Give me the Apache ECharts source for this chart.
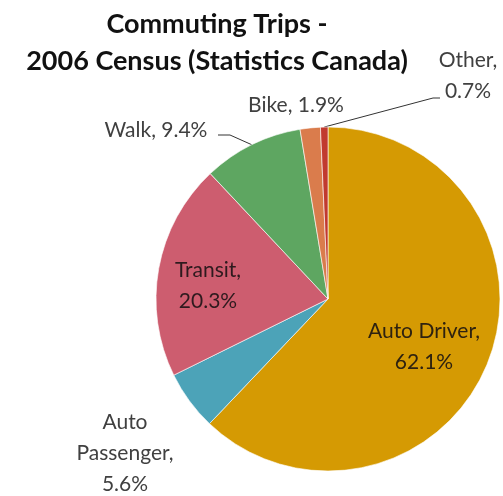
<!DOCTYPE html>
<html><head><meta charset="utf-8">
<script src="https://cdn.jsdelivr.net/npm/echarts@6/dist/echarts.min.js"></script>
<style>html,body{margin:0;padding:0;background:#fff}#c{width:503px;height:496px}</style>
</head><body><div id="c"></div>
<script>
const categories = ['Auto Driver', 'Auto Passenger', 'Transit', 'Walk', 'Bike', 'Other'];
const percents = [62.1, 5.6, 20.3, 9.4, 1.9, 0.7];
const labelLines = [
  ['Auto Driver,', '62.1%'],
  ['Auto', 'Passenger,', '5.6%'],
  ['Transit,', '20.3%'],
  ['Walk, 9.4%'],
  ['Bike, 1.9%'],
  ['Other,', '0.7%']
];
const titleLines = ['Commuting Trips -', '2006 Census (Statistics Canada)'];

const colors = ['#D59A03', '#4CA3B8', '#CD5D6F', '#5EA661', '#DA7C4C', '#C13A2F'];
const labelColors = ['#2e2210', '#404040', '#2e1a1e', '#404040', '#404040', '#404040'];
// label anchor (center) positions in px, layout only
const labelPos = [
  {x: 424, y: 347},
  {x: 125, y: 453},
  {x: 208, y: 286},
  {x: 156, y: 130},
  {x: 296, y: 105},
  {x: 468, y: 76}
];
const leader = {3: [[230, 135], [218, 135]], 5: [[433, 98], [440, 98]]};

const chart = echarts.init(document.getElementById('c'));
chart.setOption({
  animation: false,
  title: {
    text: titleLines.join('\n'),
    left: 212, top: 1, textAlign: 'center',
    textStyle: {fontFamily: 'Lato', fontWeight: 'bold', fontSize: 27, lineHeight: 37, color: '#111'}
  },
  series: [{
    type: 'pie',
    center: [328, 299],
    radius: 172,
    startAngle: 90,
    clockwise: true,
    avoidLabelOverlap: false,
    data: categories.map((c, i) => ({
      name: c, value: percents[i],
      itemStyle: {color: colors[i]},
      label: {color: labelColors[i]},
      labelLine: {show: leader[i] !== undefined}
    })),
    itemStyle: {borderColor: 'rgba(255,255,255,0.6)', borderWidth: 1},
    label: {
      show: true, position: 'outside',
      formatter: p => labelLines[p.dataIndex].join('\n'),
      fontFamily: 'Lato', fontSize: 21, lineHeight: 31, color: '#404040', align: 'center'
    },
    labelLine: {lineStyle: {color: '#333', width: 1}, length: 10, length2: 10},
    labelLayout: function (params) {
      const i = params.dataIndex;
      const pos = labelPos[i];
      const res = {x: pos.x, y: pos.y, align: 'center', verticalAlign: 'middle'};
      if (leader[i] && params.labelLinePoints) {
        res.labelLinePoints = [params.labelLinePoints[0], leader[i][0], leader[i][1]];
      }
      return res;
    }
  }]
});
</script></body></html>
